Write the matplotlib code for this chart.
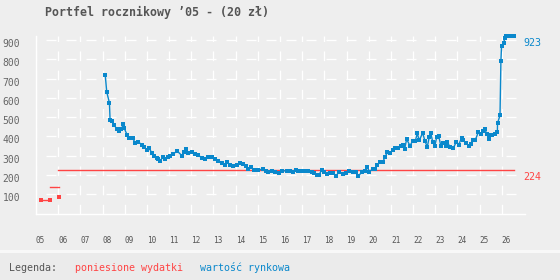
import matplotlib
matplotlib.use("Agg")
import matplotlib.pyplot as plt
import matplotlib.transforms as mtransforms
from matplotlib.patches import Rectangle

plt.rcParams['lines.scale_dashes'] = False

# ---------------- data ----------------
title = "Portfel rocznikowy \u201905 - (20 z\u0142)"
years = list(range(2005, 2027))
year_labels = [f"{y % 100:02d}" for y in years]
y_ticks = [100, 200, 300, 400, 500, 600, 700, 800, 900]

# costs incurred (red)
cost_x = [2005.23, 2005.64]
cost_y = [69, 69]
cost_step_x = [2005.64, 2006.03]
cost_step_y = [138, 138]
cost_pt_x = [2006.02]
cost_pt_y = [86]
cost_total_x = [2006.0, 2026.56]
cost_total_y = [224, 224]

# market value (blue)
value_x = [
    2008.12, 2008.19, 2008.31, 2008.34, 2008.44, 2008.53, 2008.64, 2008.73, 2008.85, 2008.94,
    2008.98, 2009.12, 2009.21, 2009.36, 2009.48, 2009.61, 2009.77, 2009.88, 2009.99, 2010.11,
    2010.22, 2010.32, 2010.44, 2010.51, 2010.60, 2010.71, 2010.82, 2010.94, 2011.04, 2011.19,
    2011.37, 2011.58, 2011.67, 2011.76, 2011.87, 2012.02, 2012.17, 2012.32, 2012.47, 2012.62,
    2012.77, 2012.92, 2013.07, 2013.22, 2013.37, 2013.52, 2013.62, 2013.75, 2013.90, 2014.05,
    2014.20, 2014.32, 2014.47, 2014.57, 2014.70, 2014.85, 2015.02, 2015.22, 2015.37, 2015.47,
    2015.63, 2015.78, 2015.97, 2016.10, 2016.30, 2016.45, 2016.57, 2016.71, 2016.83, 2016.98,
    2017.13, 2017.28, 2017.43, 2017.55, 2017.66, 2017.77, 2017.88, 2017.98, 2018.13, 2018.25,
    2018.38, 2018.53, 2018.65, 2018.83, 2018.98, 2019.13, 2019.28, 2019.43, 2019.53, 2019.68,
    2019.83, 2019.94, 2020.03, 2020.18, 2020.28, 2020.39, 2020.51, 2020.63, 2020.73, 2020.84,
    2020.96, 2021.08, 2021.20, 2021.33, 2021.46, 2021.53, 2021.62, 2021.71, 2021.86, 2021.98,
    2022.10, 2022.19, 2022.28, 2022.43, 2022.54, 2022.64, 2022.73, 2022.80, 2022.89, 2022.98,
    2023.07, 2023.16, 2023.25, 2023.36, 2023.48, 2023.55, 2023.67, 2023.82, 2023.94, 2024.06,
    2024.19, 2024.27, 2024.39, 2024.51, 2024.60, 2024.72, 2024.81, 2024.94, 2025.05, 2025.17,
    2025.24, 2025.32, 2025.41, 2025.47, 2025.55, 2025.70, 2025.80, 2025.81, 2025.92, 2025.96,
    2025.99, 2026.08, 2026.14, 2026.18, 2026.32, 2026.45, 2026.55,
]
value_y = [
    720, 631, 574, 487, 478, 459, 438, 430, 440, 463,
    442, 405, 390, 390, 366, 371, 358, 345, 331, 340,
    313, 300, 287, 282, 272, 293, 284, 293, 300, 310,
    324, 300, 317, 334, 313, 317, 310, 303, 289, 285,
    293, 293, 285, 275, 261, 254, 265, 251, 249, 251,
    261, 258, 244, 230, 239, 227, 227, 230, 223, 213,
    223, 216, 209, 223, 220, 223, 215, 227, 220, 223,
    223, 223, 216, 209, 202, 202, 227, 216, 204, 211,
    208, 195, 215, 206, 209, 223, 213, 216, 195, 213,
    223, 241, 218, 230, 233, 253, 265, 265, 293, 317,
    313, 331, 340, 340, 352, 355, 334, 386, 352, 376,
    376, 416, 379, 418, 376, 345, 397, 418, 369, 352,
    397, 400, 352, 366, 352, 369, 345, 341, 369, 358,
    393, 379, 366, 352, 362, 379, 383, 421, 414, 428,
    438, 414, 386, 410, 409, 412, 424, 470, 509, 790,
    870, 885, 912, 923, 923, 923, 923,
]
last_value = 923
total_cost = 224

legend_title = "Legenda:"
legend_cost = "poniesione wydatki"
legend_value = "warto\u015b\u0107 rynkowa"

# ---------------- style ----------------
BG = "#eeeeee"
RED = "#ff4444"
BLUE = "#0a88cc"
MONO = "DejaVu Sans Mono"

W, H = 560, 280
fig = plt.figure(figsize=(W / 100, H / 100), dpi=100, facecolor=BG)

# legend band
fig.patches.append(Rectangle((0, 0), 1, (H - 253) / H, transform=fig.transFigure,
                             facecolor="#ebebeb", edgecolor="none", zorder=0))
fig.patches.append(Rectangle((0, (H - 253) / H), 1, 3 / H, transform=fig.transFigure,
                             facecolor="#f8f8f8", edgecolor="none", zorder=0))

left_px, right_px, top_px, bot_px = 36, 525, 35.7, 213.5
ax = fig.add_axes([left_px / W, (H - bot_px) / H, (right_px - left_px) / W, (bot_px - top_px) / H])
ax.set_facecolor(BG)

ax.set_xlim(2005, 2005 + (right_px - left_px) / 22.18)
ax.set_ylim(0, 923)

for s in ["top", "right"]:
    ax.spines[s].set_visible(False)
for s in ["left", "bottom"]:
    ax.spines[s].set_color("white")
    ax.spines[s].set_linewidth(1.0)

ax.set_axisbelow(True)
ax.set_xticks(years)
ax.set_xticklabels(year_labels)
ax.set_yticks(y_ticks)
ax.set_yticklabels([str(v) for v in y_ticks])
ax.tick_params(axis="both", length=0)
ax.tick_params(axis="x", pad=16, labelsize=5.6, labelcolor="#555555")
ax.tick_params(axis="y", pad=24, labelsize=7, labelcolor="#666666")
for lbl in ax.get_xticklabels():
    lbl.set_fontfamily(MONO)
    lbl.set_ha("left")
for lbl in ax.get_yticklabels():
    lbl.set_fontfamily(MONO)
    lbl.set_ha("left")
    lbl.set_transform(lbl.get_transform() + mtransforms.ScaledTranslation(0, -3 / 100, fig.dpi_scale_trans))

ax.grid(axis="y", color="white", linewidth=0.9, linestyle=(7.2, (7.2, 7.2)))
ax.grid(axis="x", color="white", linewidth=0.9, linestyle=(0, (7.0, 6.8)))

# data
mk = dict(marker="s", ms=2.3, mew=0)
ax.plot(cost_total_x, cost_total_y, color=RED, lw=1.0, zorder=3)
ax.plot(cost_step_x, cost_step_y, color=RED, lw=1.0, zorder=3)
ax.plot(cost_x, cost_y, color=RED, lw=1.0, zorder=3, **mk)
ax.plot(cost_pt_x, cost_pt_y, color=RED, lw=0, zorder=3, **mk)
ax.plot(value_x, value_y, color=BLUE, lw=1.0, zorder=4, clip_on=False, **mk)

# end labels
ax.annotate(str(last_value), xy=(2026.96, last_value), xytext=(0, -5.5), textcoords="offset points",
            ha="left", va="center", color=BLUE, fontsize=7.2, family=MONO, annotation_clip=False)
ax.annotate(str(total_cost), xy=(2026.96, total_cost), xytext=(0, -4.5), textcoords="offset points",
            ha="left", va="center", color=RED, fontsize=7.2, family=MONO, annotation_clip=False)

# title
fig.text(45 / W, 1 - 12.7 / H, title, ha="left", va="center", family=MONO,
         fontweight="bold", fontsize=8.4, color="#555555")

# legend
ly = 1 - 267.7 / H
fig.text(9.3 / W, ly, legend_title, ha="left", va="center", family=MONO, fontsize=7.2, color="#555555")
fig.text(74.7 / W, ly, legend_cost, ha="left", va="center", family=MONO, fontsize=7.2, color=RED)
fig.text(200 / W, ly, legend_value, ha="left", va="center", family=MONO, fontsize=7.2, color=BLUE)

fig.savefig("out.png", dpi=100, facecolor=BG)
